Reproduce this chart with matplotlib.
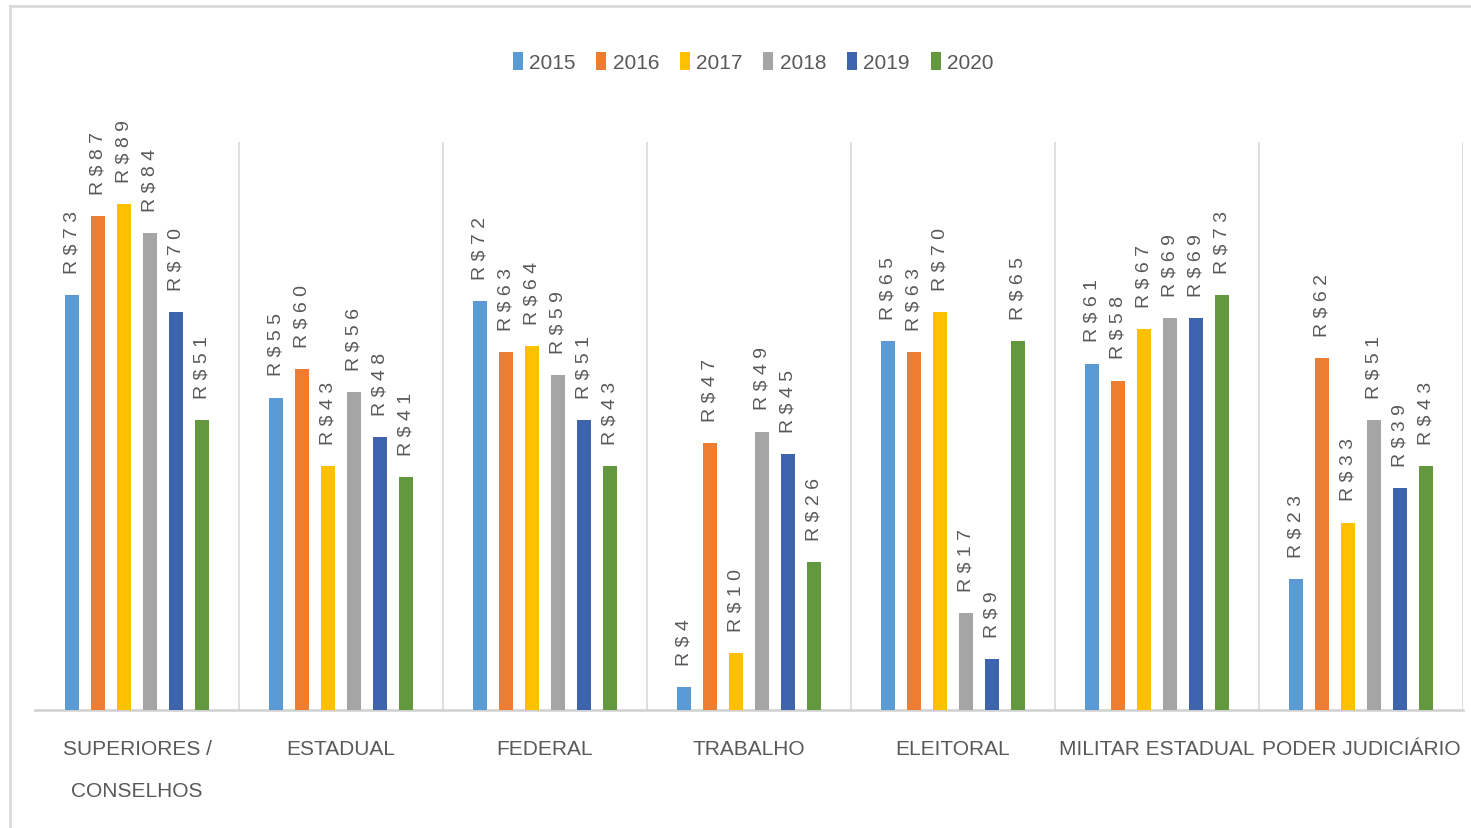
import matplotlib
matplotlib.use("Agg")
import matplotlib.pyplot as plt
from matplotlib.lines import Line2D
from matplotlib.patches import Patch
import numpy as np

categories = ["SUPERIORES /\nCONSELHOS", "ESTADUAL", "FEDERAL", "TRABALHO",
              "ELEITORAL", "MILITAR ESTADUAL", "PODER JUDICIÁRIO"]
years = ["2015", "2016", "2017", "2018", "2019", "2020"]
v2015 = [73, 55, 72, 4, 65, 61, 23]
v2016 = [87, 60, 63, 47, 63, 58, 62]
v2017 = [89, 43, 64, 10, 70, 67, 33]
v2018 = [84, 56, 59, 49, 17, 69, 51]
v2019 = [70, 48, 51, 45, 9, 69, 39]
v2020 = [51, 41, 43, 26, 65, 73, 43]
series = [v2015, v2016, v2017, v2018, v2019, v2020]
colors = ['#5B9BD5', '#ED7D31', '#FFC000', '#A5A5A5', '#3F64AE', '#64983E']

FONT = ['Liberation Sans', 'DejaVu Sans']
TXT = '#595959'

def spaced(s, sep=' '):
    return '\n'.join(sep.join(list(line)) for line in s.split('\n'))

W, H = 1471, 829
fig = plt.figure(figsize=(W / 100, H / 100), dpi=100)
ax = fig.add_axes([35 / W, 1 - 711 / H, (1463 - 35) / W, (711 - 143) / H])

n = len(categories)
x = np.arange(n)
step = 26 / 204
bw = 14 / 204
for k, (vals, c) in enumerate(zip(series, colors)):
    xs = x + (k - 2.5) * step
    ax.bar(xs, vals, width=bw, color=c, zorder=3)
    for xi, v in zip(xs, vals):
        ax.annotate(spaced(f"R${v}", ' '), (xi, v), xytext=(0, 16),
                    textcoords='offset points', rotation=90, ha='center',
                    va='bottom', fontsize=14, color=TXT, family=FONT)

ax.set_xlim(-0.5, n - 0.5)
ax.set_ylim(0, 100)
ax.set_yticks([])
for b in np.arange(0.5, n, 1.0):
    ax.axvline(b, color='#d9d9d9', lw=1.2, zorder=1)
for s in ['top', 'right', 'left']:
    ax.spines[s].set_visible(False)
ax.spines['bottom'].set_color('#d0d0d0')
ax.spines['bottom'].set_linewidth(1.8)
ax.set_xticks(x)
ax.set_xticklabels(categories, fontsize=15, color=TXT, family=FONT,
                   linespacing=2.5)
ax.tick_params(axis='x', length=0, pad=21)

handles = [Patch(facecolor=c, edgecolor='none') for c in colors]
leg = fig.legend(handles, years, loc='center', bbox_to_anchor=(753 / W, 1 - 63 / H),
                 ncol=6, frameon=False, handlelength=0.48, handleheight=1.0,
                 handletextpad=0.3, columnspacing=1.0,
                 prop={'family': FONT, 'size': 15})
for t in leg.get_texts():
    t.set_color(TXT)

# outer chart frame
fig.add_artist(Line2D([10 / W, 1.0], [1 - 7 / H, 1 - 7 / H], transform=fig.transFigure,
                      color='#d9d9d9', lw=2))
fig.add_artist(Line2D([10 / W, 10 / W], [0, 1 - 7 / H], transform=fig.transFigure,
                      color='#d9d9d9', lw=2))

fig.savefig('out.png', dpi=100)
